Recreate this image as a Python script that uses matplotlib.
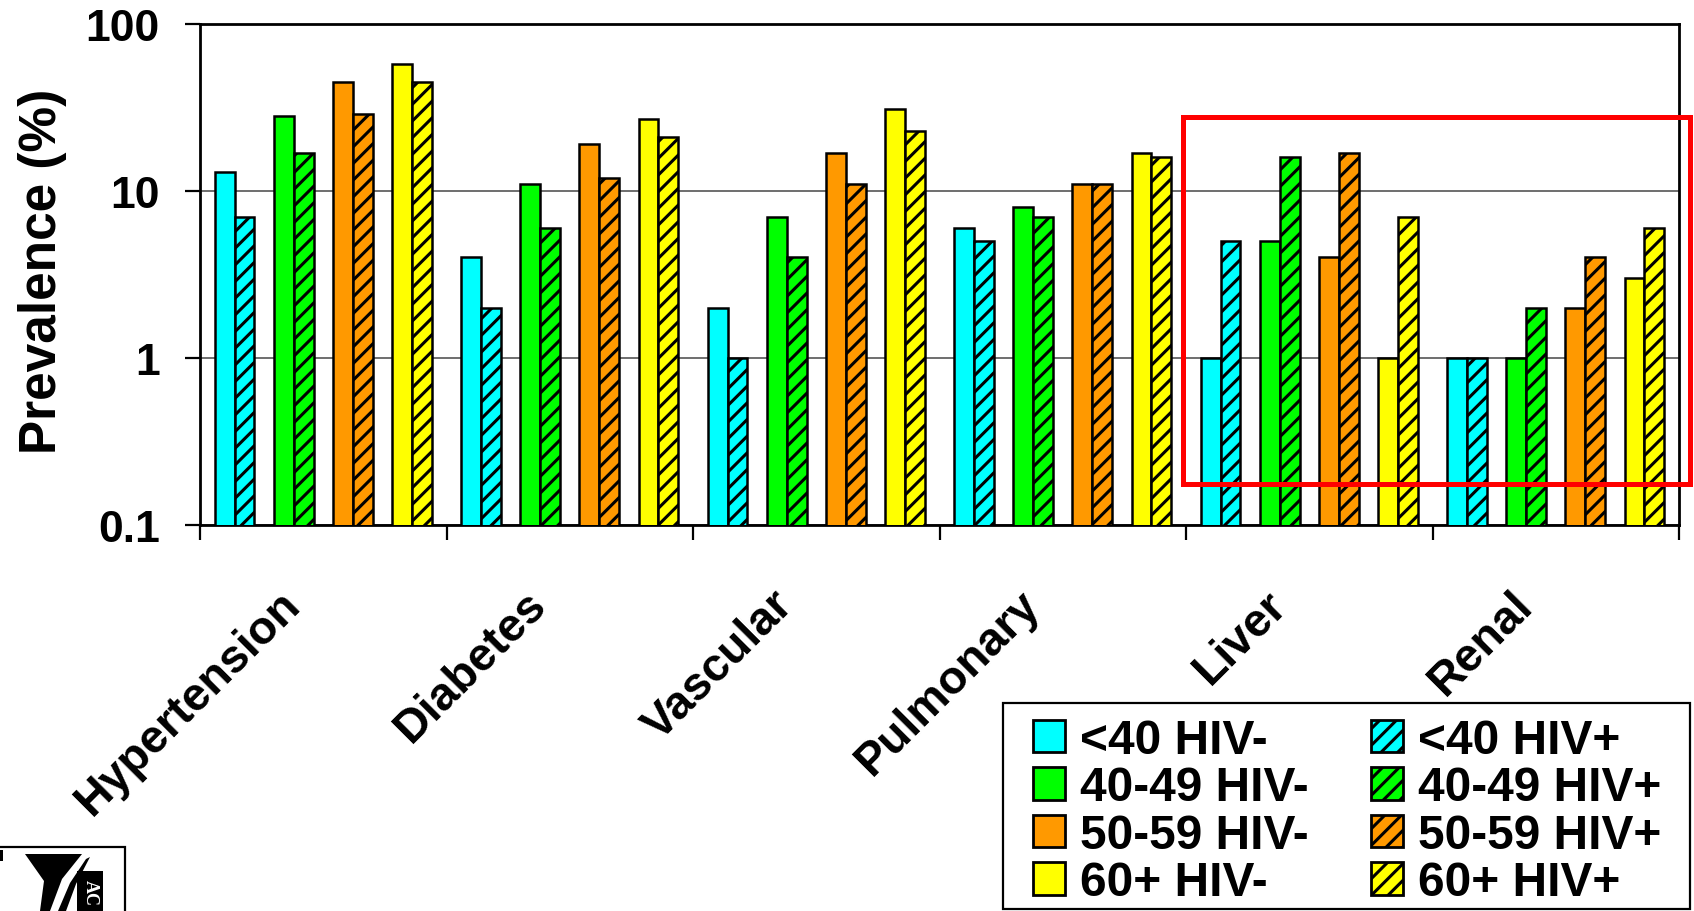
import numpy as np
import matplotlib
matplotlib.use("Agg")
import matplotlib.pyplot as plt
import matplotlib.patches as mpatches
from matplotlib.ticker import NullLocator
from matplotlib.transforms import ScaledTranslation

W, H, DPI = 1694, 912, 100

categories = ["Hypertension", "Diabetes", "Vascular", "Pulmonary", "Liver", "Renal"]
age_groups = ["<40", "40-49", "50-59", "60+"]
colors = ["#00FFFF", "#00FF00", "#FF9900", "#FFFF00"]

# prevalence (%) per category, HIV-negative
neg_lt40 = [13, 4, 2, 6, 1, 1]
neg_40_49 = [28, 11, 7, 8, 5, 1]
neg_50_59 = [45, 19, 17, 11, 4, 2]
neg_60p = [58, 27, 31, 17, 1, 3]
# prevalence (%) per category, HIV-positive
pos_lt40 = [7, 2, 1, 5, 5, 1]
pos_40_49 = [17, 6, 4, 7, 16, 2]
pos_50_59 = [29, 12, 11, 11, 17, 4]
pos_60p = [45, 21, 23, 16, 7, 6]

yticks = [0.1, 1, 10, 100]
yticklabels = ["0.1", "1", "10", "100"]

neg = [neg_lt40, neg_40_49, neg_50_59, neg_60p]
pos = [pos_lt40, pos_40_49, pos_50_59, pos_60p]

plt.rcParams["font.family"] = ["Liberation Sans", "DejaVu Sans"]
plt.rcParams["font.weight"] = "bold"
plt.rcParams["hatch.linewidth"] = 2.2
plt.rcParams["hatch.color"] = "black"


def fx(px):
    return px / W


def fy(py):
    return 1 - py / H


fig = plt.figure(figsize=(W / DPI, H / DPI), dpi=DPI, facecolor="white")
ax = fig.add_axes([fx(200), fy(526), fx(1679) - fx(200), fy(25) - fy(526)])
ax.set_yscale("log")

x = np.arange(len(categories)) + 0.5
pitch, bw = 0.24, 0.081
for k in range(len(age_groups)):
    xc = x + (k - 1.5) * pitch
    ax.bar(xc - bw / 2, neg[k], width=bw, color=colors[k], edgecolor="black",
           linewidth=1.8, zorder=3)
    ax.bar(xc + bw / 2, pos[k], width=bw, color=colors[k], edgecolor="black",
           linewidth=1.8, hatch="//", zorder=3)

ax.set_ylim(0.1, 100)
ax.set_xlim(0, len(categories))
ax.set_yticks(yticks)
ax.set_yticklabels(yticklabels)
ax.yaxis.set_minor_locator(NullLocator())
ax.set_xticks(np.arange(len(categories) + 1))
ax.set_xticklabels([])
ax.yaxis.grid(True, which="major", color="#555555", linewidth=1.2, zorder=0)
ax.set_axisbelow(True)
for sp in ax.spines.values():
    sp.set_linewidth(2.0)
ax.tick_params(axis="y", direction="out", length=11, width=1.6,
               labelsize=32, pad=18)
ax.tick_params(axis="x", direction="out", length=11, width=1.6)

ax.set_ylabel("Prevalence (%)", fontsize=37, fontweight="bold")
ax.yaxis.set_label_coords(-0.090, 0.508)

off = ScaledTranslation(-14 / DPI, -57 / DPI, fig.dpi_scale_trans)
for xi, name in zip(x, categories):
    ax.text(xi, 0, name, transform=ax.get_xaxis_transform() + off,
            rotation=45, ha="right", va="top", fontsize=33.5, fontweight="bold")

# legend
handles = []
for k, g in enumerate(age_groups):
    handles.append(mpatches.Patch(facecolor=colors[k], edgecolor="black",
                                  linewidth=2, label=f"{g} HIV-"))
for k, g in enumerate(age_groups):
    handles.append(mpatches.Patch(facecolor=colors[k], edgecolor="black",
                                  linewidth=2, hatch="//", label=f"{g} HIV+"))
fig.legend(handles=handles, loc="upper left", bbox_to_anchor=(fx(1033), fy(719)),
           ncol=2, frameon=False, fontsize=34.5, handlelength=0.66,
           handleheight=0.66, handletextpad=0.32, columnspacing=1.3,
           labelspacing=0.05, borderpad=0, borderaxespad=0)
fig.add_artist(mpatches.Rectangle((fx(1003), fy(910)), fx(1690) - fx(1003),
                                  fy(704) - fy(910), transform=fig.transFigure,
                                  fill=False, edgecolor="black", linewidth=1.6))

# red highlight box
fig.add_artist(mpatches.Rectangle((fx(1183), fy(485)), fx(1690) - fx(1183),
                                  fy(118) - fy(485), transform=fig.transFigure,
                                  fill=False, edgecolor="#FF0000", linewidth=3.6,
                                  zorder=10))

# partial logo, bottom-left
fig.add_artist(mpatches.Rectangle((fx(-5), fy(915)), fx(130), fy(848) - fy(915),
                                  transform=fig.transFigure, fill=False,
                                  edgecolor="black", linewidth=1.6))


def poly(pts, color="black"):
    fig.add_artist(mpatches.Polygon([(fx(a), fy(b)) for a, b in pts], closed=True,
                                    transform=fig.transFigure, facecolor=color,
                                    edgecolor="none"))


poly([(25, 855), (82, 855), (62, 880), (50, 912), (40, 912), (44, 882)])
poly([(86, 860), (90, 858), (76, 885), (66, 912), (58, 912), (70, 884)])
poly([(77, 872), (103, 872), (103, 912), (77, 912)])
poly([(0, 851), (3, 851), (3, 862), (0, 862)])
fig.text(fx(90), fy(893), "AC", rotation=-90, color="white", fontsize=13,
         fontweight="bold", ha="center", va="center", family="Liberation Serif")

fig.savefig("out.png", dpi=DPI, facecolor="white")
